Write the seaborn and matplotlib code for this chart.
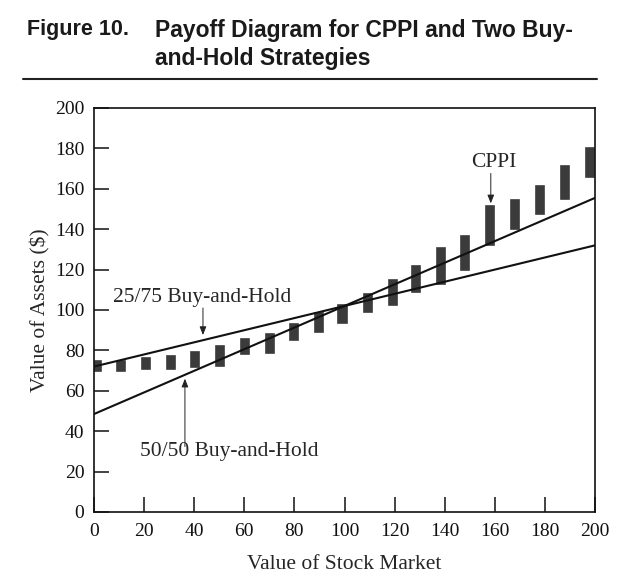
import numpy as np
import pandas as pd
import matplotlib
matplotlib.use('Agg')
import matplotlib.pyplot as plt
import seaborn as sns

# ── data ──────────────────────────────────────────────────────
stock = [0, 200]
bh_2575 = [72, 132]
bh_5050 = [48.5, 155.5]

cppi_x = [1, 10.5, 20.5, 30.5, 40, 50, 60, 70, 79.5, 89.5, 99,
          109, 119, 128.5, 138.5, 148, 158, 168, 178, 188, 198]
cppi_low = [70, 70, 71, 71, 72, 72.5, 78, 78.5, 85, 89, 93.5,
            99, 102.5, 109, 113, 120, 132, 140, 147.5, 155, 166]
cppi_high = [75, 75, 76.5, 77.5, 79.5, 82.5, 86, 88.5, 93.5, 99, 103,
             108.5, 115.5, 122.5, 131, 137, 152, 155, 162, 172, 180.5]

xticks = list(range(0, 201, 20))
yticks = list(range(0, 201, 20))

lines = pd.DataFrame({
    'stock': stock * 2,
    'value': bh_2575 + bh_5050,
    'strategy': ['25/75'] * 2 + ['50/50'] * 2,
})

sns.set_style('ticks')
plt.rcParams['font.family'] = ['Liberation Serif', 'DejaVu Serif']

fig = plt.figure(figsize=(6.4, 5.79), dpi=100)
ax = fig.add_axes([94 / 640, 1 - 512 / 579, 501 / 640, 404 / 579])

# CPPI ranges as floating bars
ax.bar(cppi_x, np.array(cppi_high) - np.array(cppi_low), bottom=cppi_low,
       width=3.6, color='#3b3b3b', edgecolor='#2a2a2a', linewidth=0.4, zorder=2)

sns.lineplot(data=lines, x='stock', y='value', units='strategy', estimator=None,
             color='#111111', linewidth=1.5, ax=ax, zorder=3, legend=False)

ax.set_xlim(0, 200)
ax.set_ylim(0, 200)
ax.set_xticks(xticks)
ax.set_yticks(yticks)
ax.tick_params(direction='in', length=11, width=1.1, colors='#111111',
               labelsize=14, pad=7)
ax.tick_params(axis='x', pad=8)
for s in ax.spines.values():
    s.set_visible(True)
    s.set_linewidth(1.2)
    s.set_color('#111111')

ax.set_xlabel('Value of Stock Market', fontsize=15.5, labelpad=10.5)
ax.set_ylabel('Value of Assets ($)', fontsize=15.5, labelpad=3)

arrow = dict(arrowstyle='-|>,head_length=0.5,head_width=0.2', color='#222222',
             lw=0.7, shrinkA=0, shrinkB=0)
ax.annotate('', xy=(43.5, 87.6), xytext=(43.5, 101), arrowprops=arrow)
ax.text(7.6, 106.4, '25/75 Buy-and-Hold', fontsize=15.5, ha='left', va='center')
ax.annotate('', xy=(36.3, 66), xytext=(36.3, 32.4), arrowprops=arrow)
ax.text(18.4, 29.9, '50/50 Buy-and-Hold', fontsize=15.5, ha='left', va='center')
ax.annotate('', xy=(158.4, 152.8), xytext=(158.4, 167.6), arrowprops=arrow)
ax.text(159.5, 173, 'CPPI', fontsize=15.5, ha='center', va='center')

# title block
tfont = dict(family=['Liberation Sans', 'DejaVu Sans'], fontweight='bold',
             color='#1a1a1a', va='center')
fig.text(27 / 640, 1 - 30 / 579, 'Figure 10.', ha='left', fontsize=15.5, **tfont)
fig.text(155 / 640, 1 - 30 / 579, 'Payoff Diagram for CPPI and Two Buy-', ha='left',
         fontsize=16.5, **tfont)
fig.text(155 / 640, 1 - 58 / 579, 'and-Hold Strategies', ha='left', fontsize=16.5, **tfont)
fig.add_artist(plt.Line2D([23 / 640, 597 / 640], [1 - 79 / 579, 1 - 79 / 579],
                          color='#222222', linewidth=1.5))

fig.savefig('out.png', dpi=100)
plt.close(fig)
